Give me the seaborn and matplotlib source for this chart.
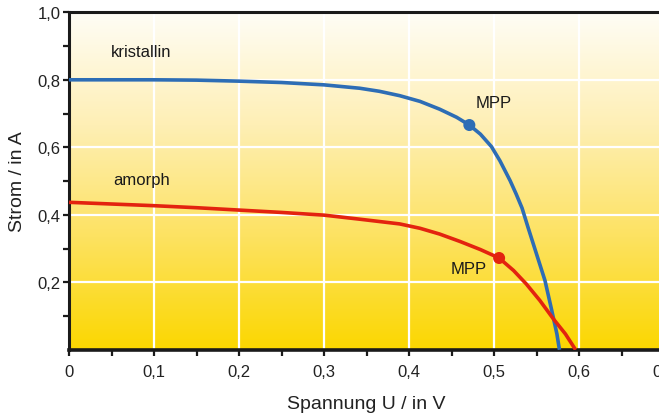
import numpy as np
import pandas as pd
import matplotlib
matplotlib.use("Agg")
import matplotlib.pyplot as plt
from matplotlib.colors import LinearSegmentedColormap
import seaborn as sns

# I-V curves (voltage in V, current in A)
kristallin_u = [0.0, 0.1, 0.15, 0.2, 0.25, 0.3, 0.342, 0.365, 0.389, 0.413, 0.436,
                0.456, 0.471, 0.484, 0.497, 0.507, 0.519, 0.526, 0.533, 0.540, 0.550,
                0.560, 0.568, 0.574, 0.577]
kristallin_i = [0.800, 0.800, 0.799, 0.796, 0.792, 0.785, 0.775, 0.766, 0.753, 0.736, 0.713,
                0.689, 0.666, 0.639, 0.602, 0.560, 0.501, 0.462, 0.420, 0.363, 0.284,
                0.205, 0.116, 0.047, 0.0]
amorph_u = [0.0, 0.05, 0.1, 0.15, 0.2, 0.25, 0.3, 0.342, 0.389, 0.413, 0.436, 0.460,
            0.484, 0.506, 0.523, 0.538, 0.554, 0.570, 0.584, 0.596]
amorph_i = [0.437, 0.432, 0.427, 0.421, 0.414, 0.407, 0.399, 0.387, 0.373, 0.360, 0.343, 0.321,
            0.297, 0.272, 0.235, 0.195, 0.146, 0.091, 0.047, 0.0]

mpp_u = [0.471, 0.506]
mpp_i = [0.666, 0.272]

x_ticks = [0, 0.1, 0.2, 0.3, 0.4, 0.5, 0.6, 0.7]
x_labels = ["0", "0,1", "0,2", "0,3", "0,4", "0,5", "0,6", "0,7"]
y_ticks = [0.2, 0.4, 0.6, 0.8, 1.0]
y_labels = ["0,2", "0,4", "0,6", "0,8", "1,0"]

blue = "#2D6DB5"
red = "#E3230F"

sns.set_style("white")
plt.rcParams["font.family"] = ["Liberation Sans", "DejaVu Sans"]

fig = plt.figure(figsize=(6.59, 4.14), dpi=100)
ax = fig.add_axes([69 / 659, 63.2 / 414, 595 / 659, 337.5 / 414])

# yellow gradient background
grad = LinearSegmentedColormap.from_list(
    "bg", ["#FBD700", "#FDE261", "#FEEFB5", "#FFFDF6"])
ax.imshow(np.linspace(0, 1, 256).reshape(-1, 1), cmap=grad, aspect="auto",
          extent=[0, 0.7, 0, 1.0], origin="lower", zorder=0)

# white grid
for gx in x_ticks[1:]:
    ax.axvline(gx, color="white", lw=1.6, zorder=1)
for gy in y_ticks[:-1]:
    ax.axhline(gy, color="white", lw=1.6, zorder=1)

df_k = pd.DataFrame({"u": kristallin_u, "i": kristallin_i})
df_a = pd.DataFrame({"u": amorph_u, "i": amorph_i})
sns.lineplot(data=df_k, x="u", y="i", sort=False, color=blue, lw=2.6, ax=ax, zorder=3,
             solid_joinstyle="round", solid_capstyle="butt")
sns.lineplot(data=df_a, x="u", y="i", sort=False, color=red, lw=2.6, ax=ax, zorder=3,
             solid_joinstyle="round", solid_capstyle="butt")
sns.scatterplot(x=mpp_u, y=mpp_i, hue=["k", "a"], palette=[blue, red], s=75,
                edgecolor="none", legend=False, ax=ax, zorder=4)

ax.set_xlim(0, 0.7)
ax.set_ylim(0, 1.0)

ax.set_xticks(x_ticks)
ax.set_xticklabels(x_labels)
ax.set_xticks(np.arange(0.05, 0.7, 0.1), minor=True)
ax.set_yticks(y_ticks)
ax.set_yticklabels(y_labels)
ax.set_yticks(np.arange(0.1, 1.0, 0.2), minor=True)
ax.tick_params(axis="both", which="both", direction="out", length=4, width=1.6,
               color="#1a1a1a", labelsize=12, labelcolor="#222222")
ax.tick_params(axis="x", which="both", bottom=True, pad=6)
ax.tick_params(axis="y", which="both", left=True, pad=2)

for side in ["left", "bottom", "top"]:
    ax.spines[side].set_visible(True)
    ax.spines[side].set_color("#1a1a1a")
ax.spines["left"].set_linewidth(2.2)
ax.spines["bottom"].set_linewidth(2.6)
ax.spines["top"].set_linewidth(2.2)
ax.spines["right"].set_visible(False)

ax.set_xlabel("Spannung U / in V", fontsize=14, color="#222222", labelpad=12)
ax.set_ylabel("Strom / in A", fontsize=14, color="#222222", labelpad=8)

txt = dict(fontsize=12, color="#1a1a1a", ha="center", va="center", zorder=5)
ax.text(0.085, 0.885, "kristallin", **txt)
ax.text(0.085, 0.505, "amorph", **txt)
ax.text(0.5, 0.733, "MPP", **txt)
ax.text(0.47, 0.24, "MPP", **txt)

fig.savefig("out.png", dpi=100)
